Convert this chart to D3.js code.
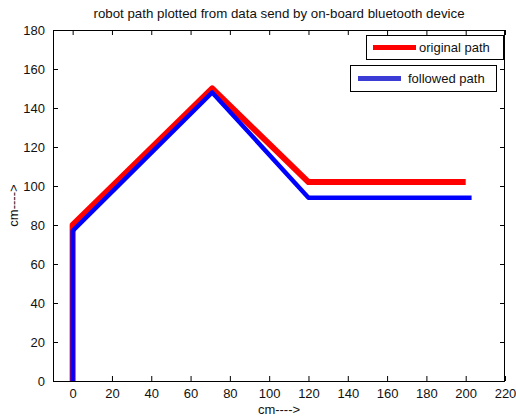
<!DOCTYPE html>
<html>
<head>
<meta charset="utf-8">
<script src="https://cdn.jsdelivr.net/npm/d3@7/dist/d3.min.js"></script>
<style>
  html, body { margin: 0; padding: 0; background: #fff; }
  svg { display: block; }
  text { font-family: "Liberation Sans", Arial, sans-serif; fill: #111; }
</style>
</head>
<body>
<svg id="chart" width="516" height="419"></svg>
<script>
// ---- data ----
const originalX = [0, 0, 71, 120, 200];
const originalY = [0, 80, 150, 102, 102];
const followedX = [0, 0, 71, 120, 203];
const followedY = [0, 77, 148, 94, 94];
const xTicks = [0, 20, 40, 60, 80, 100, 120, 140, 160, 180, 200, 220];
const yTicks = [0, 20, 40, 60, 80, 100, 120, 140, 160, 180];
const seriesNames = ["original path", "followed path"];
const titleText = "robot path plotted from data send by on-board bluetooth device";
const xLabelText = "cm---->";
const yLabelText = "cm---->";

// ---- layout ----
const svg = d3.select("#chart");
const L = 53, R = 505, T = 30, B = 381;
const x = d3.scaleLinear().domain([-10, 220]).range([L, R]);
const y = d3.scaleLinear().domain([0, 180]).range([B, T]);
const tickLen = 5;

const fontSize = 13;

svg.append("rect").attr("x", L).attr("y", T).attr("width", R - L).attr("height", B - T)
  .attr("fill", "#fff").attr("stroke", "none");

const xAxisB = d3.axisBottom(x).tickValues(xTicks).tickSizeInner(-tickLen).tickSizeOuter(0).tickPadding(8);
const xAxisT = d3.axisTop(x).tickValues(xTicks).tickSizeInner(-tickLen).tickSizeOuter(0).tickFormat("");
const yAxisL = d3.axisLeft(y).tickValues(yTicks).tickSizeInner(-tickLen).tickSizeOuter(0).tickPadding(8);
const yAxisR = d3.axisRight(y).tickValues(yTicks).tickSizeInner(-tickLen).tickSizeOuter(0).tickFormat("");

function styleAxis(g) {
  g.select(".domain").remove();
  g.selectAll(".tick line").attr("stroke", "#000").attr("stroke-width", 1);
  g.selectAll(".tick text").style("font-family", '"Liberation Sans", Arial, sans-serif')
    .style("font-size", fontSize + "px").attr("fill", "#111");
}
svg.append("g").attr("transform", `translate(0,${B})`).call(xAxisB).call(styleAxis);
svg.append("g").attr("transform", `translate(0,${T})`).call(xAxisT).call(styleAxis);
svg.append("g").attr("transform", `translate(${L},0)`).call(yAxisL).call(styleAxis);
svg.append("g").attr("transform", `translate(${R},0)`).call(yAxisR).call(styleAxis);

svg.append("rect").attr("x", L + 0.5).attr("y", T + 0.5).attr("width", R - L - 1).attr("height", B - T)
  .attr("fill", "none").attr("stroke", "#000").attr("stroke-width", 1);

// lines
const lineGen = d3.line().x(d => x(d[0])).y(d => y(d[1]));
const origPts = originalX.map((v, i) => [v, originalY[i]]);
const follPts = followedX.map((v, i) => [v, followedY[i]]);

svg.append("path").datum(origPts).attr("d", lineGen)
  .attr("fill", "none").attr("stroke", "#ff0000").attr("stroke-width", 6)
  .attr("stroke-linejoin", "round").attr("stroke-linecap", "butt");
svg.append("path").datum(follPts).attr("d", lineGen)
  .attr("fill", "none").attr("stroke", "#0000ff").attr("stroke-width", 4.4)
  .attr("stroke-linejoin", "round").attr("stroke-linecap", "butt");

// title & labels
svg.append("text").attr("x", (L + R) / 2).attr("y", 18).attr("text-anchor", "middle")
  .style("font-size", "13.3px").text(titleText);
svg.append("text").attr("x", (L + R) / 2).attr("y", 414).attr("text-anchor", "middle")
  .style("font-size", fontSize + "px").text(xLabelText);
svg.append("text").attr("transform", `translate(18,${(T + B) / 2}) rotate(-90)`)
  .attr("text-anchor", "middle").style("font-size", fontSize + "px").text(yLabelText);

// legends (two separate boxes)
const legends = [
  { name: seriesNames[0], color: "#ff0000", x0: 366, y0: 35, w: 137, h: 24, lx0: 373, lx1: 416, tx: 419 },
  { name: seriesNames[1], color: "#3b3bd6", x0: 350, y0: 65, w: 146, h: 26, lx0: 358, lx1: 401, tx: 408 }
];
legends.forEach(lg => {
  const g = svg.append("g");
  g.append("rect").attr("x", lg.x0 + 0.5).attr("y", lg.y0 + 0.5).attr("width", lg.w).attr("height", lg.h)
    .attr("fill", "#fff").attr("stroke", "#000").attr("stroke-width", 1);
  const cy = lg.y0 + lg.h / 2 + 0.5;
  g.append("line").attr("x1", lg.lx0).attr("x2", lg.lx1).attr("y1", cy).attr("y2", cy)
    .attr("stroke", lg.color).attr("stroke-width", 5);
  g.append("text").attr("x", lg.tx).attr("y", cy + 4.5).style("font-size", "13px").text(lg.name);
});
</script>
</body>
</html>
